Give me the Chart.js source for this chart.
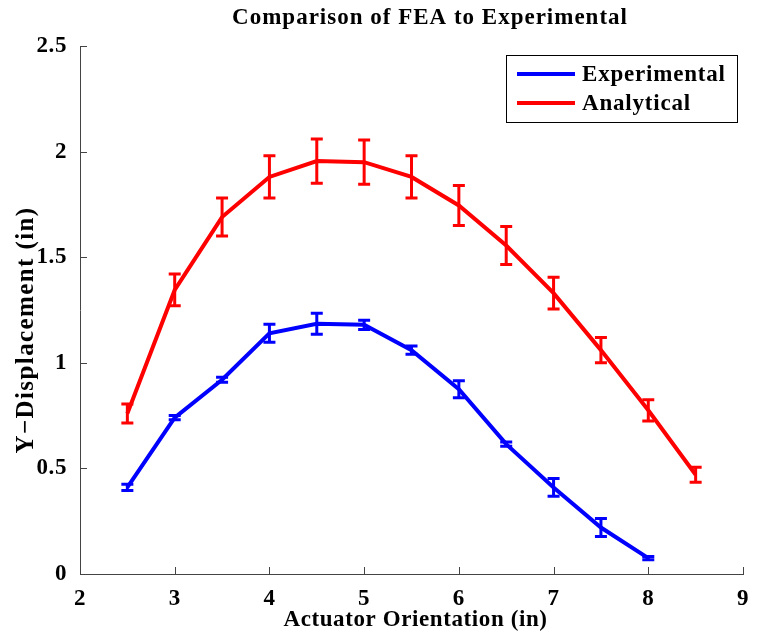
<!DOCTYPE html>
<html>
<head>
<meta charset="utf-8">
<script src="https://cdn.jsdelivr.net/npm/chart.js@4"></script>
<style>
  html, body { margin: 0; padding: 0; background: #fff; }
  #wrap { width: 757px; height: 638px; }
</style>
</head>
<body>
<div id="wrap"><canvas id="chart" width="757" height="638"></canvas></div>
<script>
// Experimental (blue)
const xExp = [2.5, 3, 3.5, 4, 4.5, 5, 5.5, 6, 6.5, 7, 7.5, 8];
const yExp = [0.41, 0.74, 0.92, 1.14, 1.185, 1.18, 1.06, 0.875, 0.615, 0.41, 0.22, 0.075];
const errExp = [0.015, 0.01, 0.012, 0.043, 0.05, 0.022, 0.02, 0.04, 0.01, 0.042, 0.043, 0.008];

// Analytical (red)
const xAna = [2.5, 3, 3.5, 4, 4.5, 5, 5.5, 6, 6.5, 7, 7.5, 8, 8.5];
const yAna = [0.76, 1.345, 1.69, 1.88, 1.955, 1.95, 1.88, 1.745, 1.555, 1.33, 1.06, 0.775, 0.47];
const errAna = [0.045, 0.075, 0.09, 0.1, 0.105, 0.105, 0.1, 0.095, 0.09, 0.075, 0.06, 0.05, 0.035];

const titleText = 'Comparison of FEA to Experimental';
const xTitle = 'Actuator Orientation (in)';
const yTitle = 'Y\u2212Displacement (in)';

const FONT = "'Liberation Serif', 'Times New Roman', serif";

function pts(xs, ys) {
  return xs.map((x, i) => ({ x: x, y: ys[i] }));
}

// wider letter spacing, like the original rendering
const spacing = {
  id: 'spacing',
  beforeDraw(chart) { chart.ctx.letterSpacing = '0.6px'; }
};

// error bars drawn through the chart scales
const errorBars = {
  id: 'errorBars',
  afterDatasetsDraw(chart) {
    const ctx = chart.ctx;
    const xs = chart.scales.x, ys = chart.scales.y;
    chart.data.datasets.forEach(ds => {
      ctx.save();
      ctx.strokeStyle = ds.borderColor;
      ctx.lineWidth = 3;
      ds.data.forEach((p, i) => {
        const e = ds.errors[i];
        const px = xs.getPixelForValue(p.x);
        const top = ys.getPixelForValue(p.y + e);
        const bot = ys.getPixelForValue(p.y - e);
        ctx.beginPath();
        ctx.moveTo(px, top); ctx.lineTo(px, bot);
        ctx.moveTo(px - 6, top); ctx.lineTo(px + 6, top);
        ctx.moveTo(px - 6, bot); ctx.lineTo(px + 6, bot);
        ctx.stroke();
      });
      ctx.restore();
    });
  }
};

// inward ticks, titles and boxed legend
const decor = {
  id: 'decor',
  afterDraw(chart) {
    const ctx = chart.ctx;
    const a = chart.chartArea;
    const xs = chart.scales.x, ys = chart.scales.y;
    ctx.save();
    ctx.strokeStyle = '#444';
    ctx.lineWidth = 1;
    ctx.beginPath();
    xs.ticks.forEach(t => {
      const px = Math.round(xs.getPixelForValue(t.value)) + 0.5;
      ctx.moveTo(px, a.bottom); ctx.lineTo(px, a.bottom - 7);
    });
    ys.ticks.forEach(t => {
      const py = Math.round(ys.getPixelForValue(t.value)) + 0.5;
      ctx.moveTo(a.left, py); ctx.lineTo(a.left + 7, py);
    });
    ctx.stroke();

    ctx.fillStyle = '#000';
    ctx.textAlign = 'center';
    ctx.textBaseline = 'middle';

    // chart title
    ctx.letterSpacing = '1px';
    ctx.font = 'bold 23px ' + FONT;
    ctx.fillText(titleText, 430, 18);

    // x axis title
    ctx.letterSpacing = '0.6px';
    ctx.font = 'bold 23px ' + FONT;
    ctx.fillText(xTitle, (a.left + a.right) / 2 + 4, 620);

    // y axis title
    ctx.save();
    ctx.translate(27, (a.top + a.bottom) / 2 + 20);
    ctx.rotate(-Math.PI / 2);
    ctx.letterSpacing = '1.4px';
    ctx.font = 'bold 25px ' + FONT;
    ctx.fillText(yTitle, 0, 0);
    ctx.restore();

    // legend
    const bx = 506, by = 55, bw = 231, bh = 67;
    ctx.fillStyle = '#fff';
    ctx.fillRect(bx, by, bw, bh);
    ctx.strokeStyle = '#000';
    ctx.lineWidth = 1;
    ctx.strokeRect(bx + 0.5, by + 0.5, bw, bh);
    ctx.letterSpacing = '0.8px';
    ctx.font = 'bold 23px ' + FONT;
    ctx.textAlign = 'left';
    chart.data.datasets.forEach((ds, i) => {
      const ly = by + 19 + i * 29;
      ctx.strokeStyle = ds.borderColor;
      ctx.lineWidth = 4;
      ctx.beginPath();
      ctx.moveTo(bx + 11, ly); ctx.lineTo(bx + 69, ly);
      ctx.stroke();
      ctx.fillStyle = '#000';
      ctx.fillText(ds.label, bx + 76, ly + 1);
    });
    ctx.restore();
  }
};

new Chart(document.getElementById('chart'), {
  type: 'scatter',
  data: {
    datasets: [{
      label: 'Experimental',
      data: pts(xExp, yExp),
      errors: errExp,
      borderColor: '#0000ff',
      backgroundColor: '#0000ff',
      borderWidth: 4,
      showLine: true,
      pointRadius: 0,
      tension: 0
    }, {
      label: 'Analytical',
      data: pts(xAna, yAna),
      errors: errAna,
      borderColor: '#ff0000',
      backgroundColor: '#ff0000',
      borderWidth: 4,
      showLine: true,
      pointRadius: 0,
      tension: 0
    }]
  },
  options: {
    responsive: false,
    animation: false,
    layout: { padding: { top: 46, right: 14, left: 0, bottom: 0 } },
    plugins: {
      legend: { display: false },
      tooltip: { enabled: false }
    },
    scales: {
      x: {
        type: 'linear',
        min: 2, max: 9,
        grid: { display: false },
        border: { display: true, color: '#444', width: 1 },
        ticks: {
          stepSize: 1,
          padding: 3,
          color: '#000',
          font: { family: FONT, size: 23, weight: 'bold' }
        },
        afterFit(scale) { scale.height = 64; }
      },
      y: {
        min: 0, max: 2.5,
        grid: { display: false },
        border: { display: true, color: '#444', width: 1 },
        ticks: {
          stepSize: 0.5,
          padding: 5,
          color: '#000',
          font: { family: FONT, size: 23, weight: 'bold' },
          callback: v => String(v)
        },
        afterFit(scale) { scale.width = 80; }
      }
    }
  },
  plugins: [spacing, errorBars, decor]
});
</script>
</body>
</html>
